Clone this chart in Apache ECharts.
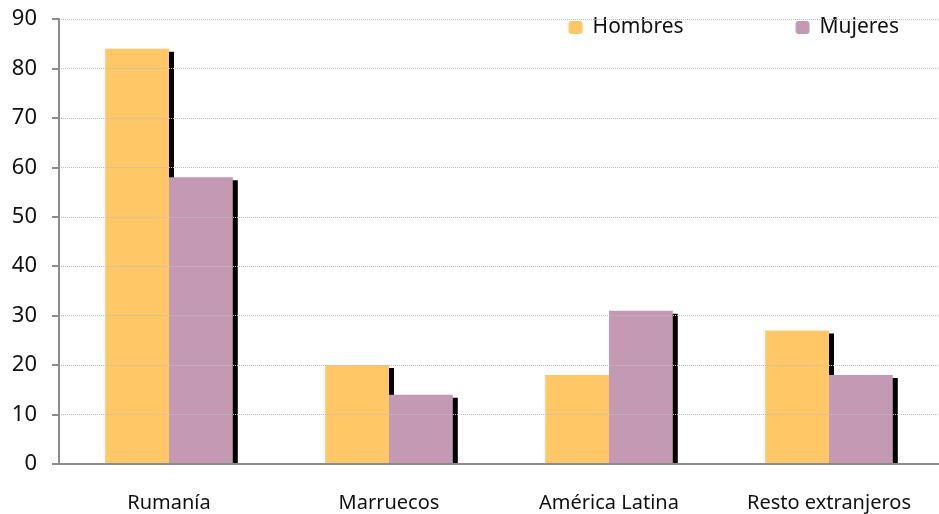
<!DOCTYPE html>
<html>
<head>
<meta charset="utf-8">
<script src="https://cdn.jsdelivr.net/npm/echarts@6/dist/echarts.min.js"></script>
<style>
  html, body { margin: 0; padding: 0; background: #fff; }
  #chart { width: 939px; height: 514px; }
</style>
</head>
<body>
<div id="chart"></div>
<script>
const categories = ['Rumanía', 'Marruecos', 'América Latina', 'Resto extranjeros'];
const hombres = [84, 20, 18, 27];
const mujeres = [58, 14, 31, 18];

const font = 'Noto Sans';
// black drop shadow to the right of each bar
const barShadow = {shadowColor: '#000', shadowBlur: 0, shadowOffsetX: 5, shadowOffsetY: 3};

const chart = echarts.init(document.getElementById('chart'));
chart.setOption({
    animation: false,
    textStyle: {fontFamily: font},
    grid: {left: 59, right: -13, top: 19, bottom: 50},
    legend: {
        data: ['Hombres', 'Mujeres'],
        orient: 'horizontal',
        right: 0,
        top: 8,
        padding: [9, 40, 9, 57],
        backgroundColor: '#fff',
        itemWidth: 14,
        itemHeight: 13,
        itemGap: 112,
        textStyle: {fontSize: 21, color: '#111', fontFamily: font, padding: [0, 0, 0, 5]}
    },
    // hides the part of the shadow that falls below the axis
    graphic: [{
        type: 'rect',
        shape: {x: 61, y: 465, width: 880, height: 6},
        style: {fill: '#fff'},
        z: 5
    }],
    xAxis: {
        type: 'category',
        data: categories,
        z: 10,
        axisLine: {lineStyle: {color: '#8c8c8c', width: 2}},
        axisTick: {show: false},
        axisLabel: {fontSize: 20, color: '#111', margin: 29}
    },
    yAxis: {
        type: 'value',
        min: 0,
        max: 90,
        interval: 10,
        z: 10,
        axisLine: {show: true, lineStyle: {color: '#8c8c8c', width: 2}},
        axisTick: {show: true, length: 7, lineStyle: {color: '#8c8c8c', width: 2}},
        axisLabel: {fontSize: 22, color: '#111', margin: 22},
        splitLine: {lineStyle: {color: '#bdbdbd', type: 'dotted', width: 1}}
    },
    series: [
        {
            name: 'Hombres',
            type: 'bar',
            data: hombres,
            barGap: 0,
            barCategoryGap: '42%',
            itemStyle: Object.assign({color: '#ffc766'}, barShadow)
        },
        {
            name: 'Mujeres',
            type: 'bar',
            data: mujeres,
            barGap: 0,
            barCategoryGap: '42%',
            itemStyle: Object.assign({color: '#c499b4'}, barShadow)
        }
    ]
});
</script>
</body>
</html>
